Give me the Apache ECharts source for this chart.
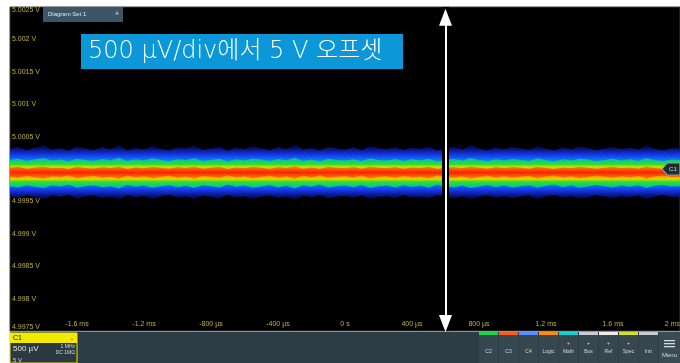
<!DOCTYPE html>
<html><head><meta charset="utf-8">
<script src="https://cdn.jsdelivr.net/npm/echarts@6/dist/echarts.min.js"></script>
<style>html,body{margin:0;padding:0;background:#fff;}#c{width:680px;height:363px;}</style>
</head><body><div id="c"></div>
<script>
// time in ms, voltage as µV offset from 5 V
const sampleTimes = [-2,-1.95,-1.9,-1.85,-1.8,-1.75,-1.7,-1.65,-1.6,-1.55,-1.5,-1.45,-1.4,-1.35,-1.3,-1.25,-1.2,-1.15,-1.1,-1.05,-1,-0.95,-0.9,-0.85,-0.8,-0.75,-0.7,-0.65,-0.6,-0.55,-0.5,-0.45,-0.4,-0.35,-0.3,-0.25,-0.2,-0.15,-0.1,-0.05,0,0.05,0.1,0.15,0.2,0.25,0.3,0.35,0.4,0.45,0.5,0.55,0.6,0.65,0.7,0.75,0.8,0.85,0.9,0.95,1,1.05,1.1,1.15,1.2,1.25,1.3,1.35,1.4,1.45,1.5,1.55,1.6,1.65,1.7,1.75,1.8,1.85,1.9,1.95,2];
const outerTop = [310,345,290,330,365,300,320,280,350,315,
 295,340,305,370,285,325,300,355,310,290,
 335,320,360,295,315,345,280,330,305,350,
 320,290,340,310,375,300,325,285,345,315,
 300,335,290,360,320,305,340,295,330,310,
 350,285,320,345,300,365,315,290,330,305,
 340,320,295,355,310,285,335,300,350,325,
 290,315,345,305,330,300,360,310,290,325,
 315];
const outerBottom = [-420,-455,-400,-440,-470,-410,-435,-395,-460,-425,
 -405,-450,-430,-475,-400,-440,-415,-465,-425,-395,
 -445,-420,-470,-410,-430,-455,-400,-440,-420,-465,
 -430,-405,-450,-425,-480,-410,-440,-400,-455,-430,
 -415,-445,-405,-470,-430,-420,-450,-400,-440,-425,
 -460,-400,-435,-455,-415,-475,-430,-405,-445,-420,
 -450,-430,-410,-465,-425,-400,-445,-415,-460,-435,
 -405,-430,-455,-420,-440,-410,-470,-425,-400,-440,
 -430];
const midTop = [140,160,125,150,170,130,145,115,160,140,
 125,155,135,175,120,150,130,165,140,120,
 150,140,165,125,140,160,115,150,130,160,
 145,120,155,135,175,125,145,115,160,140,
 130,150,120,165,140,130,155,125,150,135,
 160,115,140,155,130,170,140,120,150,130,
 155,140,125,165,135,115,150,130,160,145,
 120,140,160,130,150,125,170,135,120,145,
 140];
const midBottom = [-265,-285,-250,-275,-295,-255,-270,-240,-290,-265,
 -250,-280,-265,-300,-245,-275,-255,-290,-265,-245,
 -280,-260,-295,-250,-265,-285,-240,-275,-255,-290,
 -270,-245,-285,-260,-300,-250,-275,-240,-285,-265,
 -255,-280,-245,-295,-265,-255,-285,-250,-275,-260,
 -290,-240,-265,-285,-255,-295,-270,-245,-280,-255,
 -285,-265,-250,-290,-260,-240,-280,-255,-290,-270,
 -245,-265,-285,-255,-275,-250,-295,-260,-245,-270,
 -265];
const coreTop = [20,35,5,25,40,10,20,0,35,15,
 5,30,15,40,0,25,10,35,20,5,
 30,15,40,5,20,35,0,25,10,35,
 20,0,30,15,45,5,25,0,35,20,
 10,30,5,40,20,10,30,5,25,15,
 35,0,20,30,10,40,20,5,30,10,
 30,20,5,35,15,0,25,10,35,20,
 5,20,35,10,25,5,40,15,0,25,
 20];
const coreBottom = [-120,-140,-105,-130,-150,-110,-125,-95,-145,-120,
 -105,-135,-120,-155,-100,-130,-110,-145,-120,-100,
 -135,-115,-150,-105,-120,-140,-95,-130,-110,-145,
 -125,-100,-140,-115,-155,-105,-130,-95,-140,-120,
 -110,-135,-100,-150,-120,-110,-140,-105,-130,-115,
 -145,-95,-120,-140,-110,-150,-125,-100,-135,-110,
 -140,-120,-105,-145,-115,-95,-135,-110,-145,-125,
 -100,-120,-140,-110,-130,-105,-150,-115,-100,-125,
 -120];
const xTickLabels = ['-2 ms','-1.6 ms','-1.2 ms','-800 µs','-400 µs','0 s','400 µs','800 µs','1.2 ms','1.6 ms','2 ms'];
const yTickLabels = ['4.9975 V','4.998 V','4.9985 V','4.999 V','4.9995 V','5.000 V','5.0005 V','5.001 V','5.0015 V','5.002 V','5.0025 V'];
const arrowTime = 0.6;
const arrowEnds = [2340, -2385];
const channelMarker = [1.946, 0];
const titleText = '500 µV/div에서 5 V 오프셋';
const buttonLabels = ['C2','C3','C4','Logic','Math','Bus','Ref','Spec','Intr'];
const buttonColors = ['#22d048','#ff5a24','#5a8cff','#ff8a14','#14d0d0','#c8ccd4','#ececec','#d8e024','#c8ccd4'];

const X_MIN = -2, X_MAX = 2, X_STEP = 0.4;
const Y_MIN = -2500, Y_MAX = 2500, Y_STEP = 500;

function bandSeries(name, top, bot, stops, z) {
  return {
    type: 'custom', name: name, z: z, silent: true, animation: false, clip: true,
    data: [[0, 0]],
    renderItem: function (params, api) {
      const n = Math.min(sampleTimes.length, top.length, bot.length);
      const pts = [];
      for (let i = 0; i < n; i++) pts.push(api.coord([sampleTimes[i], top[i]]));
      for (let i = n - 1; i >= 0; i--) pts.push(api.coord([sampleTimes[i], bot[i]]));
      return { type: 'polygon', shape: { points: pts },
        style: { fill: new echarts.graphic.LinearGradient(0, 0, 0, 1, stops), stroke: null } };
    }
  };
}
const outerStops = [
  { offset: 0, color: 'rgba(6,10,90,0.5)' }, { offset: 0.1, color: '#0a1a9a' }, { offset: 0.2, color: '#1840f0' },
  { offset: 0.3, color: '#0090f0' }, { offset: 0.5, color: '#00b8e0' }, { offset: 0.7, color: '#0090f0' },
  { offset: 0.8, color: '#1840f0' }, { offset: 0.9, color: '#0a1a9a' }, { offset: 1, color: 'rgba(6,10,90,0.5)' }];
const midStops = [
  { offset: 0, color: '#00b0e0' }, { offset: 0.12, color: '#18d060' }, { offset: 0.22, color: '#30e030' },
  { offset: 0.3, color: '#c8e000' }, { offset: 0.36, color: '#ffb000' }, { offset: 0.5, color: '#ff6000' },
  { offset: 0.64, color: '#ffb000' }, { offset: 0.7, color: '#c8e000' }, { offset: 0.78, color: '#30e030' },
  { offset: 0.88, color: '#18d060' }, { offset: 1, color: '#00b0e0' }];
const coreStops = [
  { offset: 0, color: '#ff9000' }, { offset: 0.3, color: '#ff4a00' }, { offset: 0.5, color: '#f02a00' },
  { offset: 0.7, color: '#ff4a00' }, { offset: 1, color: '#ff9000' }];

const labelColor = '#bfb13e';
const chrome = [];
// bottom settings panel
chrome.push({ type: 'rect', shape: { x: 10, y: 332, width: 670, height: 31 }, style: { fill: '#2d3c45' }, z: 1 });
chrome.push({ type: 'rect', shape: { x: 10, y: 333, width: 67, height: 30 }, style: { fill: '#2a3942', stroke: '#e8e000', lineWidth: 1 }, z: 2 });
chrome.push({ type: 'rect', shape: { x: 10, y: 333, width: 67, height: 10 }, style: { fill: '#f2ea00' }, z: 3 });
chrome.push({ type: 'text', x: 13, y: 338, style: { text: 'C1', fill: '#111', fontSize: 7, fontFamily: 'Liberation Sans', verticalAlign: 'middle' }, z: 4 });
chrome.push({ type: 'text', x: 72, y: 338, style: { text: '⌄', fill: '#555', fontSize: 6, fontFamily: 'DejaVu Sans', verticalAlign: 'middle', align: 'center' }, z: 4 });
chrome.push({ type: 'text', x: 13, y: 349, style: { text: '500 µV', fill: '#e6e6d6', fontSize: 8, fontFamily: 'Liberation Sans', verticalAlign: 'middle' }, z: 4 });
chrome.push({ type: 'text', x: 75, y: 347, style: { text: '1 MHz', fill: '#d8d8d8', fontSize: 5, fontFamily: 'Liberation Sans', verticalAlign: 'middle', align: 'right' }, z: 4 });
chrome.push({ type: 'text', x: 75, y: 353, style: { text: 'DC 1MΩ', fill: '#d8d8d8', fontSize: 5, fontFamily: 'Liberation Sans', verticalAlign: 'middle', align: 'right' }, z: 4 });
chrome.push({ type: 'text', x: 13, y: 360, style: { text: '5 V', fill: '#d8d8d8', fontSize: 6, fontFamily: 'Liberation Sans', verticalAlign: 'middle' }, z: 4 });
for (let i = 0; i < buttonLabels.length; i++) {
  const bx = 479 + i * 20;
  chrome.push({ type: 'rect', shape: { x: bx, y: 332, width: 19, height: 31 }, style: { fill: '#37474f' }, z: 2 });
  chrome.push({ type: 'rect', shape: { x: bx, y: 332, width: 19, height: 3 }, style: { fill: buttonColors[i] }, z: 3 });
  chrome.push({ type: 'text', x: bx + 9.5, y: 352, style: { text: buttonLabels[i], fill: '#d4d8dc', fontSize: 5, fontFamily: 'Liberation Sans', align: 'center', verticalAlign: 'middle' }, z: 4 });
  if (i >= 4 && i <= 7) chrome.push({ type: 'text', x: bx + 9.5, y: 344, style: { text: '+', fill: '#d4d8dc', fontSize: 5, fontFamily: 'Liberation Sans', align: 'center', verticalAlign: 'middle' }, z: 4 });
}
chrome.push({ type: 'rect', shape: { x: 659, y: 332, width: 21, height: 31 }, style: { fill: '#3b4b53' }, z: 2 });
[340, 343, 346].forEach(function (yy) { chrome.push({ type: 'rect', shape: { x: 664, y: yy, width: 11, height: 1.3 }, style: { fill: '#d8dce0' }, z: 3 }); });
chrome.push({ type: 'text', x: 669.5, y: 355, style: { text: 'Menu', fill: '#d8dce0', fontSize: 6, fontFamily: 'Liberation Sans', align: 'center', verticalAlign: 'middle' }, z: 4 });
// tab on top
chrome.push({ type: 'rect', shape: { x: 43, y: 7, width: 80, height: 15 }, style: { fill: '#3d5666' }, z: 50 });
chrome.push({ type: 'text', x: 48, y: 14.5, style: { text: 'Diagram Set 1', fill: '#dfe6ec', fontSize: 6, fontFamily: 'Liberation Sans', verticalAlign: 'middle' }, z: 51 });
chrome.push({ type: 'text', x: 117, y: 14.5, style: { text: '+', fill: '#dfe6ec', fontSize: 7, fontFamily: 'Liberation Sans', align: 'center', verticalAlign: 'middle' }, z: 51 });
// title box
chrome.push({ type: 'rect', shape: { x: 81, y: 34, width: 322, height: 35 }, style: { fill: '#0b97d8' }, z: 50 });
chrome.push({ type: 'text', x: 88, y: 52, style: { text: titleText, fill: '#ffffff', fontSize: 24, fontWeight: 300, fontFamily: '"DejaVu Sans", "Noto Sans CJK KR", sans-serif', verticalAlign: 'middle' }, z: 51 });

const chart = echarts.init(document.getElementById('c'), null, { renderer: 'canvas' });
chart.setOption({
  animation: false,
  backgroundColor: '#ffffff',
  grid: { left: 10, right: 0, top: 7, bottom: 32, show: true, backgroundColor: '#000000', borderColor: '#3a3a3a', borderWidth: 1, outerBoundsMode: 'none', containLabel: false },
  xAxis: {
    type: 'value', min: X_MIN, max: X_MAX, interval: X_STEP,
    axisLine: { show: true, onZero: false, lineStyle: { color: '#8a949a', width: 1 } },
    axisTick: { show: false }, splitLine: { show: false },
    axisLabel: { inside: true, margin: 3, color: labelColor, fontSize: 7, fontFamily: 'Liberation Sans', showMinLabel: false, showMaxLabel: true, alignMaxLabel: 'right',
      formatter: function (v) { return xTickLabels[Math.round((v - X_MIN) / X_STEP)] || ''; } }
  },
  yAxis: {
    type: 'value', min: Y_MIN, max: Y_MAX, interval: Y_STEP,
    axisLine: { show: false }, axisTick: { show: false }, splitLine: { show: false },
    axisLabel: { inside: true, margin: 2, color: labelColor, fontSize: 7, fontFamily: 'Liberation Sans',
      showMinLabel: true, showMaxLabel: true, verticalAlignMinLabel: 'bottom', verticalAlignMaxLabel: 'top',
      formatter: function (v) { return yTickLabels[Math.round((v - Y_MIN) / Y_STEP)] || ''; } }
  },
  series: [
    bandSeries('outer', outerTop, outerBottom, outerStops, 2),
    bandSeries('mid', midTop, midBottom, midStops, 3),
    bandSeries('core', coreTop, coreBottom, coreStops, 4),
    {
      type: 'line', name: 'annotations', data: [], z: 10, silent: true, animation: false,
      markLine: {
        silent: true, animation: false, symbol: ['triangle', 'triangle'], symbolSize: [13, 17], label: { show: false },
        data: [
          [{ coord: [arrowTime, Y_MAX], symbol: 'none', lineStyle: { color: '#000', width: 7, type: 'solid' } },
           { coord: [arrowTime, Y_MIN], symbol: 'none' }],
          [{ coord: [arrowTime, arrowEnds[0]], lineStyle: { color: '#ffffff', width: 2, type: 'solid' }, itemStyle: { color: '#ffffff' } },
           { coord: [arrowTime, arrowEnds[1]] }]
        ]
      },
      markPoint: {
        silent: true, animation: false,
        data: [{ coord: channelMarker, symbol: 'path://M0,6 L6,0 L20,0 L20,12 L6,12 Z', symbolSize: [18, 12],
          itemStyle: { color: '#1e2e2e', borderColor: '#8fa0a0', borderWidth: 1 },
          label: { show: true, position: 'inside', formatter: 'C1', color: '#d8d8d8', fontSize: 6, fontFamily: 'Liberation Sans', offset: [2, 0] } }]
      }
    }
  ],
  graphic: { elements: chrome }
});
</script></body></html>
